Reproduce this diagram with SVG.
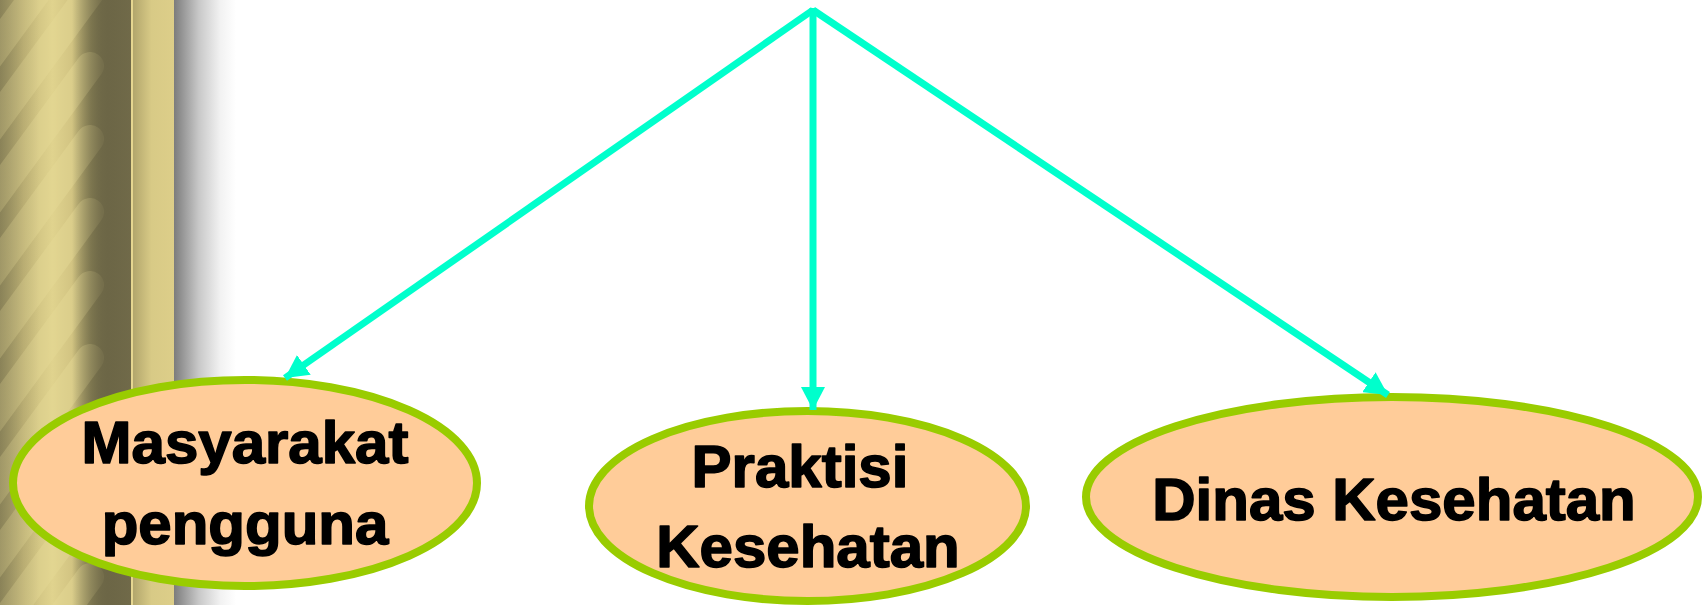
<svg xmlns="http://www.w3.org/2000/svg" width="1705" height="605" viewBox="0 0 1705 605">
  <defs>
    <linearGradient id="col" x1="0" y1="0" x2="131" y2="0" gradientUnits="userSpaceOnUse">
      <stop offset="0" stop-color="#9a9262"/>
      <stop offset="0.18" stop-color="#c6b97a"/>
      <stop offset="0.4" stop-color="#e0d38e"/>
      <stop offset="0.55" stop-color="#d2c482"/>
      <stop offset="0.7" stop-color="#8f8859"/>
      <stop offset="0.82" stop-color="#6c6646"/>
      <stop offset="1" stop-color="#7a7350"/>
    </linearGradient>
    <linearGradient id="shade" x1="0" y1="0" x2="131" y2="0" gradientUnits="userSpaceOnUse">
      <stop offset="0" stop-color="#6c6646" stop-opacity="0.35"/>
      <stop offset="0.3" stop-color="#6c6646" stop-opacity="0"/>
      <stop offset="0.55" stop-color="#6c6646" stop-opacity="0"/>
      <stop offset="0.78" stop-color="#6c6646" stop-opacity="0.85"/>
      <stop offset="1" stop-color="#6c6646" stop-opacity="0.7"/>
    </linearGradient>
    <linearGradient id="band" x1="133" y1="0" x2="174" y2="0" gradientUnits="userSpaceOnUse">
      <stop offset="0" stop-color="#b2a66c"/>
      <stop offset="0.45" stop-color="#d8ca86"/>
      <stop offset="1" stop-color="#ddce89"/>
    </linearGradient>
    <linearGradient id="shadow" x1="174" y1="0" x2="236" y2="0" gradientUnits="userSpaceOnUse">
      <stop offset="0" stop-color="#7c7c7c"/>
      <stop offset="0.4" stop-color="#c8c8c8"/>
      <stop offset="0.75" stop-color="#f2f2f2"/>
      <stop offset="1" stop-color="#ffffff"/>
    </linearGradient>
    <clipPath id="colclip">
      <rect x="0" y="0" width="131" height="605"/>
    </clipPath>
    <marker id="arrow" markerUnits="userSpaceOnUse" markerWidth="24" markerHeight="24" refX="23" refY="12" orient="auto">
      <path d="M0,0 L23,12 L0,24 Z" fill="#00ffcc"/>
    </marker>
    <style>
      .node { fill: #ffcc99; stroke: #99cc00; stroke-width: 8; }
      .label { font-family: "Liberation Sans", Arial, sans-serif; font-weight: bold; font-size: 60px; fill: #000000; stroke: #000000; stroke-width: 1.6; stroke-linejoin: round; text-anchor: middle; }
      .conn { stroke: #00ffcc; stroke-width: 7; fill: none; marker-end: url(#arrow); }
      .stripe { stroke: #e6da96; stroke-width: 28; stroke-linecap: round; opacity: 0.45; }
    </style>
  </defs>

  <rect x="0" y="0" width="1705" height="605" fill="#ffffff"/>

  <g id="border">
    <rect x="0" y="0" width="131" height="605" fill="url(#col)"/>
    <g clip-path="url(#colclip)">
      <line class="stripe" x1="-20" y1="70" x2="90" y2="-80"/>
      <line class="stripe" x1="-20" y1="143" x2="90" y2="-7"/>
      <line class="stripe" x1="-20" y1="216" x2="90" y2="66"/>
      <line class="stripe" x1="-20" y1="289" x2="90" y2="139"/>
      <line class="stripe" x1="-20" y1="362" x2="90" y2="212"/>
      <line class="stripe" x1="-20" y1="435" x2="90" y2="285"/>
      <line class="stripe" x1="-20" y1="508" x2="90" y2="358"/>
      <line class="stripe" x1="-20" y1="581" x2="90" y2="431"/>
      <line class="stripe" x1="-20" y1="654" x2="90" y2="504"/>
      <line class="stripe" x1="-20" y1="727" x2="90" y2="577"/>
      <rect x="0" y="0" width="131" height="605" fill="url(#shade)"/>
    </g>
    <rect x="131" y="0" width="2" height="605" fill="#e6d690"/>
    <rect x="133" y="0" width="41" height="605" fill="url(#band)"/>
    <rect x="174" y="0" width="62" height="605" fill="url(#shadow)"/>
  </g>

  <g id="node-masyarakat">
    <ellipse class="node" cx="245" cy="483" rx="232" ry="103"/>
    <text class="label" x="245" y="463">Masyarakat</text>
    <text class="label" x="245" y="544">pengguna</text>
  </g>

  <g id="node-praktisi">
    <ellipse class="node" cx="807.5" cy="506" rx="218.5" ry="95"/>
    <text class="label" x="800" y="487">Praktisi</text>
    <text class="label" x="808" y="567">Kesehatan</text>
  </g>

  <g id="node-dinas">
    <ellipse class="node" cx="1392" cy="497" rx="306" ry="100"/>
    <text class="label" x="1394" y="520">Dinas Kesehatan</text>
  </g>

  <g id="connectors">
    <line class="conn" x1="813" y1="10" x2="285" y2="378"/>
    <line class="conn" x1="813" y1="8" x2="813" y2="410"/>
    <line class="conn" x1="813" y1="10" x2="1388" y2="395"/>
  </g>
</svg>
